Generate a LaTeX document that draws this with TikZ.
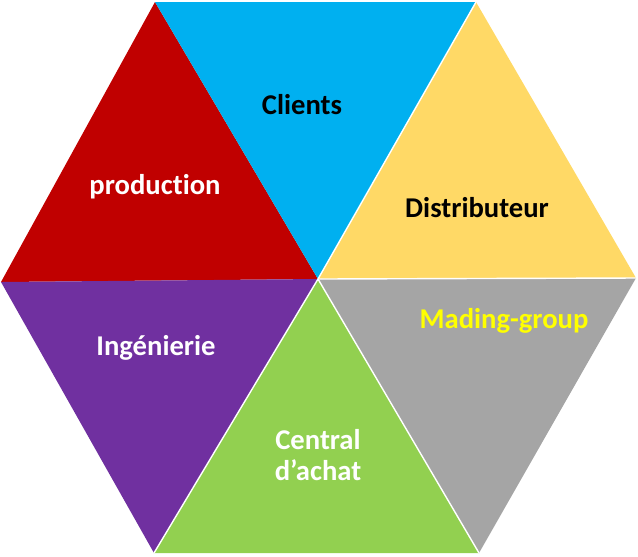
\documentclass[tikz,border=0pt]{standalone}
\usepackage{fontspec}
\setmainfont{Carlito}[Ligatures=NoCommon]
\definecolor{prodred}{HTML}{C00000}
\definecolor{clientblue}{HTML}{00B0F0}
\definecolor{distyellow}{HTML}{FFD966}
\definecolor{madgray}{HTML}{A5A5A5}
\definecolor{achatgreen}{HTML}{92D050}
\definecolor{ingpurple}{HTML}{7030A0}
\definecolor{madtext}{HTML}{FFFF00}
\begin{document}
\begin{tikzpicture}[x=0.02cm, y=-0.02cm,
		label/.style={font=\fontsize{16.3}{17.8}\selectfont\bfseries, align=center, inner sep=0pt},
		gap/.style={white, line width=0.8pt}
		]
	\useasboundingbox (0,0) rectangle (638,556);
	% corners of the hexagon
	\coordinate (m) at (318,279);
	\coordinate (tl) at (155,2);
	\coordinate (tr) at (476,2);
	\coordinate (r) at (636,278);
	\coordinate (br) at (479,553);
	\coordinate (bl) at (154,553);
	\coordinate (l) at (1,282);
	% six triangles
	\fill [prodred] (l) -- (tl) -- (m) -- cycle;
	\fill [clientblue] (tl) -- (tr) -- (m) -- cycle;
	\fill [distyellow] (tr) -- (r) -- (m) -- cycle;
	\fill [madgray] (m) -- (r) -- (br) -- cycle;
	\fill [achatgreen] (m) -- (br) -- (bl) -- cycle;
	\fill [ingpurple] (m) -- (bl) -- (l) -- cycle;
	\draw [gap] (m) -- (tr);
	\draw [gap] (m) -- (r);
	\draw [gap] (m) -- (br);
	\draw [gap] (m) -- (bl);
	% labels
	\node [label] (clients) at (302,105) {Clients};
	\node [label, white] (prod) at (155,187) {production};
	\node [label] (dist) at (477,208) {Distributeur};
	\node [label, madtext] (mading) at (504,321) {Mading-group};
	\node [label, white] (ing) at (156,348) {Ingénierie};
	\node [label, white] (achat) at (318,455) {Central\\d’achat};
\end{tikzpicture}
\end{document}
